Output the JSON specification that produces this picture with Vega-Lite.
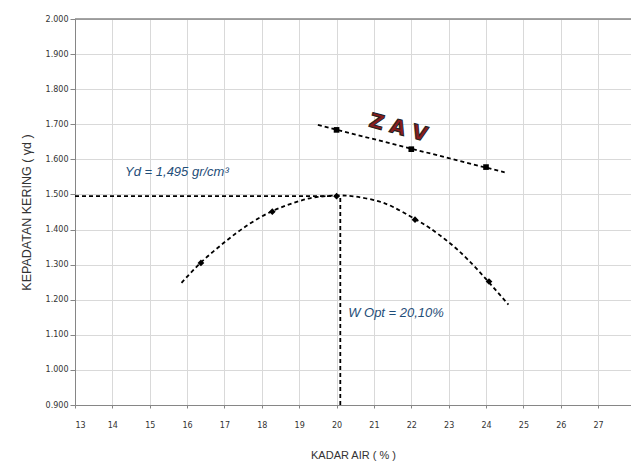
{
  "$schema": "https://vega.github.io/schema/vega-lite/v6.json",
  "width": 556,
  "height": 386,
  "autosize": "none",
  "padding": {"left": 75, "top": 19, "right": 0, "bottom": 58},
  "background": "white",
  "config": {
    "view": {"stroke": null},
    "axis": {
      "gridColor": "#d9d9d9",
      "domainColor": "#868686",
      "tickColor": "#868686",
      "labelFont": "DejaVu Sans",
      "labelFontSize": 8,
      "labelColor": "#333333",
      "titleFont": "Liberation Sans",
      "titleFontSize": 11,
      "titleFontWeight": "normal",
      "titleColor": "#333333"
    }
  },
  "datasets": {
    "curve": [
      {"x": 15.85, "y": 1.248},
      {"x": 16.35, "y": 1.304},
      {"x": 16.9, "y": 1.355},
      {"x": 17.5, "y": 1.404},
      {"x": 18.25, "y": 1.451},
      {"x": 19.0, "y": 1.481},
      {"x": 19.5, "y": 1.493},
      {"x": 20.05, "y": 1.497},
      {"x": 20.5, "y": 1.494},
      {"x": 21.0, "y": 1.484},
      {"x": 21.5, "y": 1.465},
      {"x": 22.1, "y": 1.430},
      {"x": 22.5, "y": 1.404},
      {"x": 23.0, "y": 1.364},
      {"x": 23.5, "y": 1.316},
      {"x": 24.05, "y": 1.253},
      {"x": 24.6, "y": 1.186}
    ],
    "points": [
      {"x": 16.37, "y": 1.305},
      {"x": 18.28, "y": 1.451},
      {"x": 20.0, "y": 1.495},
      {"x": 22.1, "y": 1.428},
      {"x": 24.08, "y": 1.252}
    ],
    "zavline": [
      {"x": 19.5, "y": 1.698},
      {"x": 24.5, "y": 1.563}
    ],
    "zav": [
      {"x": 20.0, "y": 1.684},
      {"x": 22.0, "y": 1.629},
      {"x": 24.0, "y": 1.578}
    ],
    "refs": [
      {"x": 13, "x2": 20.1, "y": 1.495, "y2": 1.495},
      {"x": 20.1, "x2": 20.1, "y": 0.9, "y2": 1.495}
    ]
  },
  "encoding": {
    "x": {
      "field": "x", "type": "quantitative",
      "scale": {"domain": [13, 27.88], "nice": false, "zero": false},
      "axis": {
        "values": [13, 14, 15, 16, 17, 18, 19, 20, 21, 22, 23, 24, 25, 26, 27],
        "title": "KADAR AIR ( % )",
        "tickSize": 3,
        "labelPadding": 13,
        "titlePadding": 20
      }
    },
    "y": {
      "field": "y", "type": "quantitative",
      "scale": {"domain": [0.9, 2.0], "nice": false, "zero": false},
      "axis": {
        "values": [0.9, 1.0, 1.1, 1.2, 1.3, 1.4, 1.5, 1.6, 1.7, 1.8, 1.9, 2.0],
        "format": ".3f",
        "title": "KEPADATAN KERING ( γd )",
        "titleFontSize": 12.5,
        "tickSize": 5,
        "labelPadding": 2,
        "titlePadding": 12
      }
    }
  },
  "layer": [
    {
      "data": {"values": [{"y": 2.0}]},
      "mark": {"type": "rule", "color": "#868686", "strokeWidth": 1.5},
      "encoding": {"x": null, "y": {"field": "y", "type": "quantitative"}}
    },
    {
      "data": {"name": "refs"},
      "mark": {"type": "rule", "color": "black", "strokeWidth": 1.8, "strokeDash": [4, 3]},
      "encoding": {
        "x2": {"field": "x2"},
        "y2": {"field": "y2"}
      }
    },
    {
      "data": {"name": "curve"},
      "mark": {"type": "line", "color": "black", "strokeWidth": 1.8, "strokeDash": [4, 3], "interpolate": "natural"}
    },
    {
      "data": {"name": "points"},
      "mark": {"type": "point", "shape": "diamond", "filled": true, "color": "black", "size": 45, "opacity": 1}
    },
    {
      "data": {"name": "zavline"},
      "mark": {"type": "line", "color": "black", "strokeWidth": 1.8, "strokeDash": [4, 3]}
    },
    {
      "data": {"name": "zav"},
      "mark": {"type": "square", "color": "black", "size": 32, "opacity": 1}
    },
    {
      "data": {"values": [{"x": 21.65, "y": 1.689, "t": "Z A V"}]},
      "mark": {"type": "text", "font": "DejaVu Sans", "fontSize": 20, "fontWeight": "bold", "fill": "#8B1C1C", "stroke": "#222222", "strokeWidth": 1, "angle": 15, "align": "center", "baseline": "middle"},
      "encoding": {"text": {"field": "t"}}
    },
    {
      "data": {"values": [
        {"x": 14.34, "y": 1.564, "t": "Yd =  1,495 gr/cm³"},
        {"x": 20.31, "y": 1.162, "t": "W Opt  =  20,10%"}
      ]},
      "mark": {"type": "text", "font": "Liberation Sans", "fontSize": 13, "fontStyle": "italic", "color": "#1F4E79", "align": "left", "baseline": "middle"},
      "encoding": {"text": {"field": "t"}}
    }
  ]
}
